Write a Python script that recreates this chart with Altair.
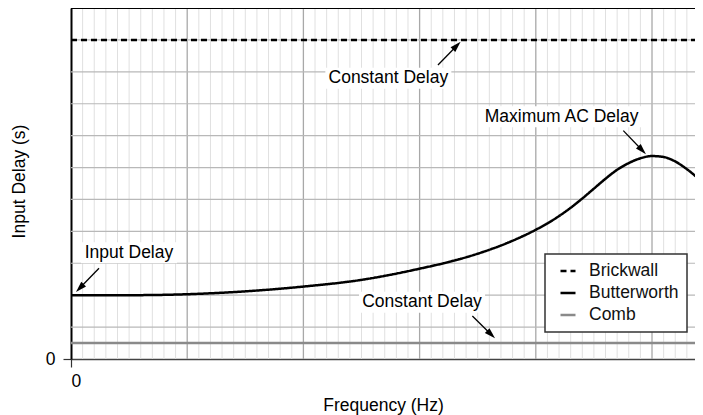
import math
import altair as alt
import pandas as pd

# ---------------- data ----------------
freq = [0, 0.5, 1.0, 1.5, 2.0, 2.5, 2.75, 3.0, 3.25, 3.5, 3.75, 4.0, 4.1, 4.2,
        4.3, 4.4, 4.5, 4.6, 4.7, 4.8, 4.9, 5.0, 5.1, 5.2, 5.3, 5.44]
butterworth = [2.0, 2.0, 2.03, 2.12, 2.27, 2.48, 2.64, 2.83, 3.04, 3.30, 3.63,
               4.05, 4.25, 4.48, 4.74, 5.03, 5.34, 5.65, 5.93, 6.14, 6.29, 6.36,
               6.33, 6.19, 5.95, 5.52]
flat_x = [0, 5.44]
brickwall = [10, 10]
comb = [0.5, 0.5]
series = ["Brickwall", "Butterworth", "Comb"]

X_MAX = 5.37
Y_MAX = 11
major_x = [1, 2, 3, 4, 5]
minor_x = [i / 10 for i in range(1, 54) if i % 10 != 0]
h_grid = [1, 2, 3, 4, 5, 6, 7, 8, 9, 10]

ann_text = ["Constant Delay", "Maximum AC Delay", "Input Delay", "Constant Delay"]
ann_x = [2.731, 4.222, 0.499, 3.021]
ann_y = [8.80, 7.59, 3.33, 1.777]
ann_w = [126, 160, 96, 126]
tail_x = [3.158, 4.753, 0.241, 3.454]
tail_y = [9.216, 7.157, 2.843, 1.348]
tip_x = [3.353, 4.948, 0.043, 3.649]
tip_y = [9.94, 6.42, 2.10, 0.649]

W, H = 624, 351
PX_X = W / X_MAX
PX_Y = H / Y_MAX
FONT = "Liberation Sans"
FS = 17.5

# ---------------- frames ----------------
rows = []
for f, v in zip(freq, butterworth):
    rows.append({"x": f, "y": v, "series": "Butterworth"})
for f, v in zip(flat_x, brickwall):
    rows.append({"x": f, "y": v, "series": "Brickwall"})
for f, v in zip(flat_x, comb):
    rows.append({"x": f, "y": v, "series": "Comb"})
lines_df = pd.DataFrame(rows)

bg_rows, arrow_rows, head_rows = [], [], []
for t, x, y, w in zip(ann_text, ann_x, ann_y, ann_w):
    hw = (w / 2) / PX_X
    hh = 10.5 / PX_Y
    bg_rows.append({"x": x - hw, "x2": x + hw, "y": y - hh, "y2": y + hh})
for tx, ty, hx, hy in zip(tail_x, tail_y, tip_x, tip_y):
    dx = (hx - tx) * PX_X
    dy = -(hy - ty) * PX_Y
    L = math.hypot(dx, dy)
    ux, uy = dx / L, dy / L
    back = 5.5
    cx = hx - back * ux / PX_X
    cy = hy + back * uy / PX_Y
    ang = math.degrees(math.atan2(dx, -dy)) % 360
    arrow_rows.append({"x": tx, "y": ty, "x2": cx, "y2": cy})
    head_rows.append({"x": cx, "y": cy, "angle": ang})

ann_df = pd.DataFrame({"x": ann_x, "y": ann_y, "text": ann_text})
bg_df = pd.DataFrame(bg_rows)
arrow_df = pd.DataFrame(arrow_rows)
head_df = pd.DataFrame(head_rows)

# ---------------- encodings ----------------
xs = alt.Scale(domain=[0, X_MAX], nice=False, zero=False)
ys = alt.Scale(domain=[0, Y_MAX], nice=False, zero=False)

X = alt.X("x:Q", scale=xs, axis=alt.Axis(
    values=[0], title="Frequency (Hz)", grid=False, tickSize=8,
    tickColor="#333", domainColor="#444", domainWidth=1.5, tickWidth=1.2,
    labelFontSize=FS, labelColor="black", labelPadding=5, labelFont=FONT,
    titleFontSize=FS, titleFontWeight="normal", titleColor="black", titleFont=FONT,
    titleY=51, titleBaseline="alphabetic"))
Y = alt.Y("y:Q", scale=ys, axis=alt.Axis(
    values=[0], title="Input Delay (s)", grid=False, tickSize=8,
    tickColor="#333", domainColor="black", domainWidth=2, tickWidth=1.2,
    labelFontSize=FS, labelColor="black", labelPadding=8, labelFont=FONT,
    titleFontSize=FS, titleFontWeight="normal", titleColor="black", titleFont=FONT,
    titleX=-47, titleY=173, titleBaseline="alphabetic"))

minor = alt.Chart(pd.DataFrame({"x": minor_x})).mark_rule(
    color="#e0e0e0", strokeWidth=1).encode(x=X)
major = alt.Chart(pd.DataFrame({"x": major_x})).mark_rule(
    color="#a8a8a8", strokeWidth=1.3).encode(x=X)
hor = alt.Chart(pd.DataFrame({"y": h_grid})).mark_rule(
    color="#b8b8b8", strokeWidth=1.2).encode(y=Y)
top = alt.Chart(pd.DataFrame({"y": [Y_MAX]})).mark_rule(
    color="black", strokeWidth=2).encode(y=Y)

leg = alt.Legend(title=None, orient="none", legendX=474, legendY=246,
                 fillColor="white", strokeColor="#333", padding=8,
                 symbolType="stroke", symbolSize=225, symbolStrokeWidth=2.5,
                 symbolOffset=6, rowPadding=4, labelFontSize=FS,
                 labelFont=FONT, labelColor="#111", labelOffset=12)

lines = alt.Chart(lines_df).mark_line(strokeWidth=2.5, interpolate="monotone", clip=True).encode(
    x=X, y=Y,
    color=alt.Color("series:N", scale=alt.Scale(domain=series, range=["black", "black", "#8a8a8a"]),
                    legend=leg),
    strokeDash=alt.StrokeDash("series:N", scale=alt.Scale(domain=series, range=[[6, 4], [1, 0], [1, 0]]),
                              legend=leg),
    detail="series:N",
)

bg = alt.Chart(bg_df).mark_rect(color="white").encode(
    x=X, x2="x2:Q", y=Y, y2="y2:Q")
texts = alt.Chart(ann_df).mark_text(fontSize=FS, font=FONT, color="black",
                                    align="center", baseline="middle").encode(
    x=X, y=Y, text="text:N")
arrows = alt.Chart(arrow_df).mark_rule(color="black", strokeWidth=1.3).encode(
    x=X, y=Y, x2="x2:Q", y2="y2:Q")
heads = alt.Chart(head_df).mark_point(shape="M0,-1L0.6,1L-0.6,1Z", size=121, filled=True,
                                      color="black", opacity=1).encode(
    x=X, y=Y, angle=alt.Angle("angle:Q", scale=None))

chart = alt.layer(minor, major, hor, lines, top, bg, texts, arrows, heads).properties(
    width=W, height=H,
    autosize=alt.AutoSizeParams(type="none"),
    padding={"left": 63, "top": 0, "right": 0, "bottom": 56},
).configure_view(stroke=None).configure_legend(
    strokeWidth=1.5, labelFontSize=FS, labelFont=FONT)

chart.save("out.html", embed_options={"renderer": "svg", "actions": False})
